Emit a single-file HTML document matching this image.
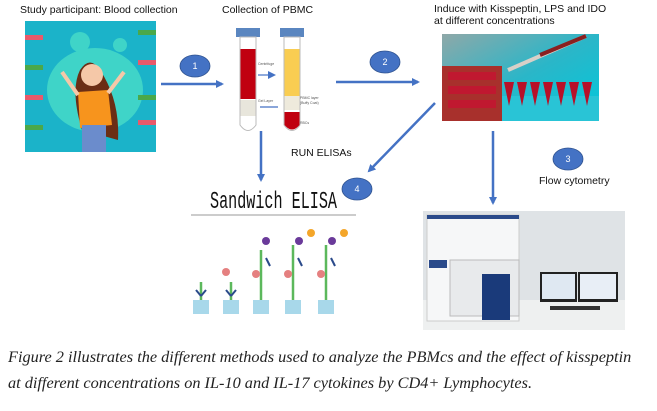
<!DOCTYPE html>
<html><head><meta charset="utf-8"><style>
body{margin:0;width:657px;height:411px;background:#fff;overflow:hidden;font-family:"Liberation Sans",sans-serif}
svg{position:absolute;left:0;top:0}
.cap{position:absolute;left:8px;font-family:"Liberation Serif",serif;font-style:italic;font-size:16.3px;color:#222;white-space:nowrap}
</style></head><body>
<svg width="657" height="411" viewBox="0 0 657 411">
<defs>
<marker id="a" markerWidth="8" markerHeight="8" refX="6" refY="4" orient="auto" markerUnits="userSpaceOnUse"><path d="M0,0 L8,4 L0,8 z" fill="#4472c4"/></marker>
<linearGradient id="pg" x1="0" y1="0" x2="1" y2="1"><stop offset="0" stop-color="#8fa8a8"/><stop offset="0.5" stop-color="#2bb6c8"/><stop offset="1" stop-color="#00c8dc"/></linearGradient>
</defs>
<g font-size="10.5" fill="#111">
<text x="20" y="13">Study participant:  Blood collection</text>
<text x="222" y="13">Collection of PBMC</text>
<text x="434" y="12">Induce with Kisspeptin, LPS and IDO</text>
<text x="434" y="24">at different concentrations</text>
<text x="291" y="156">RUN ELISAs</text>
<text x="539" y="184">Flow cytometry</text>
</g>
<rect x="25" y="21" width="131" height="131" fill="#1bb3c9"/>
<ellipse cx="95" cy="90" rx="48" ry="42" fill="#3fd4c8"/>
<circle cx="80" cy="42" r="10" fill="#3fd4c8"/><circle cx="120" cy="45" r="7" fill="#3fd4c8"/>
<path d="M82 130 Q70 90 80 70 Q90 55 100 70 Q120 100 118 140Z" fill="#6b2e15"/>
<circle cx="92" cy="75" r="11" fill="#f5c8a8"/>
<path d="M78 92 L108 90 L112 125 L80 128Z" fill="#f7941d"/>
<rect x="82" y="125" width="24" height="27" fill="#6b8ccc"/>
<g stroke="#f5c8a8" stroke-width="4"><line x1="78" y1="95" x2="62" y2="72"/><line x1="108" y1="93" x2="124" y2="72"/></g>
<g fill="#e85a6b"><rect x="25" y="35" width="18" height="5"/><rect x="25" y="95" width="18" height="5"/><rect x="138" y="60" width="18" height="5"/><rect x="138" y="120" width="18" height="5"/></g>
<g fill="#4aa84a"><rect x="25" y="65" width="18" height="5"/><rect x="25" y="125" width="18" height="5"/><rect x="138" y="30" width="18" height="5"/><rect x="138" y="95" width="18" height="5"/></g>
<rect x="236" y="28" width="24" height="9" fill="#5a86c0"/>
<rect x="280" y="28" width="24" height="9" fill="#5a86c0"/>
<path d="M240 37 V125 Q248 136 256 125 V37Z" fill="#fff" stroke="#bbb"/>
<path d="M284 37 V125 Q292 136 300 125 V37Z" fill="#fff" stroke="#bbb"/>
<rect x="240.5" y="49" width="15" height="50" fill="#c00010"/>
<rect x="240.5" y="100" width="15" height="16" fill="#e8e6dc"/>
<rect x="284.5" y="49" width="15" height="47" fill="#f9cd52"/>
<rect x="284.5" y="96" width="15" height="14" fill="#eeeadc"/>
<path d="M284.5 112 H299.5 V125 Q292 134 284.5 125Z" fill="#c00010"/>
<g font-size="3.5" fill="#555"><text x="258" y="65">Centrifuge</text><text x="258" y="102">Gel Layer</text><text x="300" y="99">PBMC layer</text><text x="300" y="104">(Buffy Coat)</text><text x="300" y="124">RBCs</text></g>
<line x1="258" y1="75" x2="274" y2="75" stroke="#4472c4" stroke-width="1.2" marker-end="url(#a)"/>
<line x1="260" y1="107" x2="278" y2="107" stroke="#4472c4" stroke-width="1.2"/>
<rect x="442" y="34" width="157" height="87" fill="url(#pg)"/>
<rect x="442" y="96" width="157" height="25" fill="#29c4d6"/>
<rect x="442" y="66" width="60" height="55" fill="#a8302c"/>
<g fill="#c01830"><rect x="448" y="72" width="48" height="8"/><rect x="448" y="86" width="48" height="8"/><rect x="448" y="100" width="48" height="8"/></g>
<g fill="#b81028"><path d="M504 82h10l-5 24z"/><path d="M517 82h10l-5 24z"/><path d="M530 82h10l-5 24z"/><path d="M543 82h10l-5 24z"/><path d="M556 82h10l-5 24z"/><path d="M569 82h10l-5 24z"/><path d="M582 82h10l-5 24z"/></g>
<line x1="508" y1="70" x2="586" y2="36" stroke="#d8d0c8" stroke-width="4"/>
<line x1="540" y1="55" x2="586" y2="36" stroke="#8a2020" stroke-width="4"/>
<g stroke="#4472c4" stroke-width="2.5" fill="none">
<line x1="161" y1="84" x2="222" y2="84" marker-end="url(#a)"/>
<line x1="336" y1="82" x2="418" y2="82" marker-end="url(#a)"/>
<line x1="261" y1="131" x2="261" y2="180" marker-end="url(#a)"/>
<line x1="435" y1="103" x2="369" y2="171" marker-end="url(#a)"/>
<line x1="493" y1="131" x2="493" y2="203" marker-end="url(#a)"/>
</g>
<g fill="#4472c4" stroke="#2f528f" stroke-width="0.8">
<ellipse cx="195" cy="66" rx="15" ry="11"/><ellipse cx="385" cy="62" rx="15" ry="11"/>
<ellipse cx="568" cy="159" rx="15" ry="11"/><ellipse cx="357" cy="189" rx="15" ry="11"/>
</g>
<g fill="#fff" font-size="9" text-anchor="middle"><text x="195" y="69">1</text><text x="385" y="65">2</text><text x="568" y="162">3</text><text x="357" y="192">4</text></g>
<text x="210" y="208" font-family="Liberation Mono,monospace" font-size="24" fill="#111" textLength="127" lengthAdjust="spacingAndGlyphs">Sandwich ELISA</text>
<line x1="191" y1="215" x2="356" y2="215" stroke="#999"/>
<g fill="#a8d8ea"><rect x="193" y="300" width="16" height="14"/><rect x="223" y="300" width="16" height="14"/><rect x="253" y="300" width="16" height="14"/><rect x="285" y="300" width="16" height="14"/><rect x="318" y="300" width="16" height="14"/></g>
<g stroke="#5cb85c" stroke-width="2.5"><line x1="201" y1="300" x2="201" y2="282"/><line x1="231" y1="300" x2="231" y2="282"/><line x1="261" y1="300" x2="261" y2="250"/><line x1="293" y1="300" x2="293" y2="245"/><line x1="326" y1="300" x2="326" y2="245"/></g>
<g stroke="#2a4a8a" stroke-width="2"><line x1="196" y1="290" x2="201" y2="296"/><line x1="206" y1="290" x2="201" y2="296"/><line x1="226" y1="290" x2="231" y2="296"/><line x1="236" y1="290" x2="231" y2="296"/><line x1="266" y1="258" x2="270" y2="266"/><line x1="298" y1="258" x2="302" y2="266"/><line x1="331" y1="258" x2="335" y2="266"/></g>
<g fill="#e58080"><circle cx="226" cy="272" r="4"/><circle cx="256" cy="274" r="4"/><circle cx="288" cy="274" r="4"/><circle cx="321" cy="274" r="4"/></g>
<g fill="#6a3a9a"><circle cx="266" cy="241" r="4"/><circle cx="299" cy="241" r="4"/><circle cx="332" cy="241" r="4"/></g>
<g fill="#f4a62a"><circle cx="311" cy="233" r="4"/><circle cx="344" cy="233" r="4"/></g>
<rect x="423" y="211" width="202" height="119" fill="#dfe3e6"/>
<rect x="423" y="300" width="202" height="30" fill="#eef0f0"/>
<rect x="427" y="215" width="92" height="106" fill="#f6f7f8" stroke="#ccc"/>
<rect x="427" y="215" width="92" height="4" fill="#2a4a8a"/>
<rect x="450" y="260" width="69" height="56" fill="#e8eaec" stroke="#bbb"/>
<rect x="482" y="274" width="28" height="46" fill="#1a3a7a"/>
<rect x="429" y="260" width="18" height="8" fill="#2a4a8a"/>
<rect x="540" y="272" width="37" height="30" fill="#222"/><rect x="542" y="274" width="33" height="25" fill="#dfe8f2"/>
<rect x="578" y="272" width="40" height="30" fill="#222"/><rect x="580" y="274" width="36" height="25" fill="#e8eef6"/>
<rect x="550" y="306" width="50" height="4" fill="#333"/>
</svg>
<div class="cap" style="top:347px">Figure 2 illustrates the different methods used to analyze the PBMcs and the effect of kisspeptin</div>
<div class="cap" style="top:373px">at different concentrations on IL-10 and IL-17 cytokines by CD4+ Lymphocytes.</div>
</body></html>
